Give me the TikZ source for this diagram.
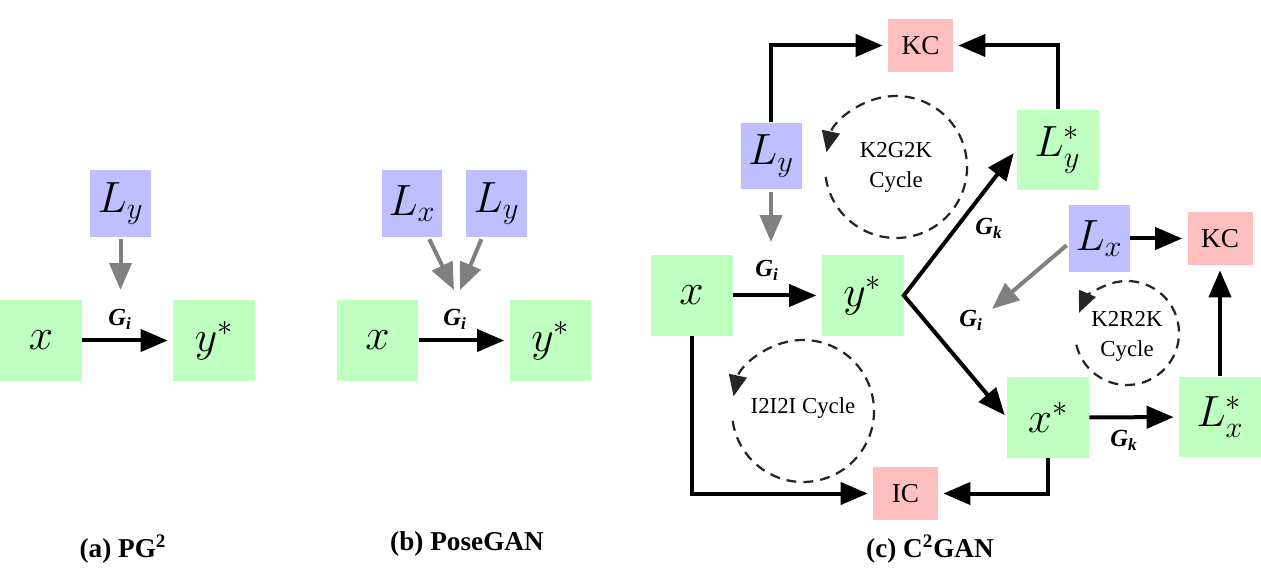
\documentclass[tikz,border=0pt]{standalone}
\usepackage{fontspec}
\setmainfont{Liberation Serif}
\usetikzlibrary{arrows.meta,positioning}
\definecolor{gfill}{RGB}{191,255,191}
\definecolor{lfill}{RGB}{191,191,255}
\definecolor{cfill}{RGB}{255,191,191}
\begin{document}
\begin{tikzpicture}[x=0.02cm,y=0.02cm,
  gbox/.style={fill=gfill,minimum width=1.64cm,minimum height=1.62cm,inner sep=0pt,font=\fontsize{25}{29}\selectfont},
  lbox/.style={fill=lfill,minimum width=1.22cm,minimum height=1.34cm,inner sep=0pt,font=\fontsize{25}{29}\selectfont},
  cbox/.style={fill=cfill,minimum width=1.3cm,minimum height=1.06cm,inner sep=0pt,font=\fontsize{15.5}{18}\selectfont},
  arr/.style={-{Triangle[length=0.54cm,width=0.44cm]},line width=0.08cm,shorten >=0.1cm},
  garr/.style={arr,draw=gray,shorten >=0pt,shorten <=0.04cm},
  lbl/.style={font=\fontsize{14}{16}\selectfont\bfseries\itshape},
  cyc/.style={draw=black!85,line width=0.045cm,dash pattern=on 0.2cm off 0.14cm,-{Triangle[length=0.42cm,width=0.36cm]}},
  cyctxt/.style={font=\fontsize{13}{17}\selectfont,align=center},
  captxt/.style={font=\fontsize{15.5}{18}\selectfont\bfseries}]
\useasboundingbox (0,0) rectangle (1261,575);
% (a) PG2
\node[lbox] (Ly_a) at (120.5,371.5) {$L_y$};
\node[gbox] (x_a) at (41,234.5) {$x$};
\node[gbox] (ys_a) at (214,234.5) {$y^*$};
\coordinate (ga) at (120.5,285);
\draw[garr] (Ly_a) -- (ga);
\draw[arr] (x_a) -- (ys_a);
\node[lbl] (gi_a) at (120,256) {G\textsubscript{i}};
\node[captxt] (cap_a) at (123,26) {(a) PG\textsuperscript{2}};
% (b) PoseGAN
\node[lbox] (Lx_b) at (412,371.5) {$L_x$};
\node[lbox] (Ly_b) at (496.5,371.5) {$L_y$};
\node[gbox] (x_b) at (377.5,234.5) {$x$};
\node[gbox] (ys_b) at (550.5,234.5) {$y^*$};
\coordinate (gbx) at (454,285);
\coordinate (gby) at (460,285);
\draw[garr] (Lx_b) -- (gbx);
\draw[garr] (Ly_b) -- (gby);
\draw[arr] (x_b) -- (ys_b);
\node[lbl] (gi_b) at (455,256) {G\textsubscript{i}};
\node[captxt] (cap_b) at (467,31) {(b) PoseGAN};
% (c) C2GAN
\node[cbox] (KCt) at (920.5,529.5) {KC};
\node[lbox] (Ly_c) at (771,419) {$L_y$};
\node[gbox] (Lys_c) at (1057.5,425) {$L_y^*$};
\node[gbox] (x_c) at (691.5,279.5) {$x$};
\node[gbox] (ys_c) at (862.5,279.5) {$y^*$};
\node[lbox] (Lx_c) at (1099,336.5) {$L_x$};
\node[cbox] (KCr) at (1220,336.5) {KC};
\node[gbox] (xs_c) at (1048,157.5) {$x^*$};
\node[gbox] (Lxs_c) at (1220,158) {$L_x^*$};
\node[cbox] (IC) at (905.5,81.5) {IC};
\coordinate (gc1) at (771,333);
\coordinate (gc2) at (992,266);
\draw[arr] (Ly_c.north) |- (KCt.west);
\draw[arr] (Lys_c.north) |- (KCt.east);
\draw[garr] (Ly_c) -- (gc1);
\draw[arr] (x_c) -- (ys_c);
\draw[line width=0.08cm,{Triangle[length=0.54cm,width=0.44cm]}-{Triangle[length=0.54cm,width=0.44cm]},shorten <=0.08cm,shorten >=0.06cm] (Lys_c.west) -- (ys_c.east) -- (xs_c.west);
\draw[garr] (Lx_c.190) -- (gc2);
\draw[arr] (Lx_c) -- (KCr);
\draw[arr] (Lxs_c) -- (KCr);
\draw[arr] (xs_c) -- (Lxs_c);
\draw[arr] (x_c.south) |- (IC.west);
\draw[arr] (xs_c.south) |- (IC.east);
\node[lbl] (gi_c1) at (767,305) {G\textsubscript{i}};
\node[lbl] (gk_c1) at (989,347) {G\textsubscript{k}};
\node[lbl] (gi_c2) at (971,255) {G\textsubscript{i}};
\node[lbl] (gk_c2) at (1124,135) {G\textsubscript{k}};
% cycles
\coordinate (k2g2k) at (896,408);
\coordinate (k2r2k) at (1127,242);
\coordinate (i2i2i) at (803,164);
\draw[cyc] (k2g2k) ++(-172:71) arc[start angle=-172,end angle=168,radius=71];
\draw[cyc] (k2r2k) ++(-167:52) arc[start angle=-167,end angle=157,radius=52];
\draw[cyc] (i2i2i) ++(-172:71) arc[start angle=-172,end angle=168,radius=71];
\node[cyctxt] (t_k2g2k) at (896,408) {K2G2K\\Cycle};
\node[cyctxt] (t_k2r2k) at (1127,239) {K2R2K\\Cycle};
\node[cyctxt] (t_i2i2i) at (803,167) {I2I2I Cycle};
\node[captxt] (cap_c) at (930,26) {(c) C\textsuperscript{2}GAN};
\end{tikzpicture}
\end{document}
